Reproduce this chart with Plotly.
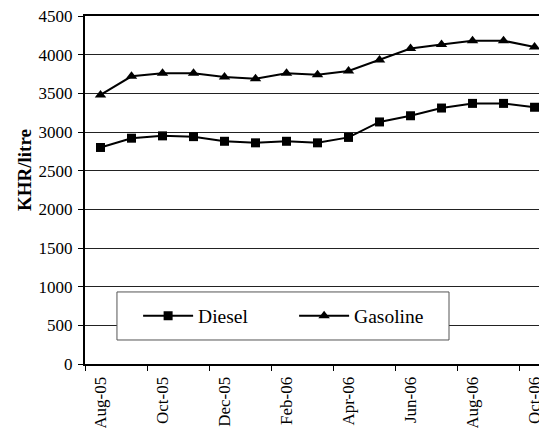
import plotly.graph_objects as go

months = ["Aug-05", "Sep-05", "Oct-05", "Nov-05", "Dec-05", "Jan-06", "Feb-06", "Mar-06",
          "Apr-06", "May-06", "Jun-06", "Jul-06", "Aug-06", "Sep-06", "Oct-06"]
diesel = [2800, 2920, 2950, 2940, 2880, 2860, 2880, 2860, 2930, 3130, 3210, 3310, 3370, 3370, 3320]
gasoline = [3480, 3720, 3760, 3760, 3710, 3690, 3760, 3740, 3790, 3930, 4080, 4130, 4180, 4180, 4100]

FONT = "Liberation Serif"

fig = go.Figure()
fig.add_trace(go.Scatter(x=months, y=diesel, name="Diesel", mode="lines+markers",
                         line=dict(color="black", width=2),
                         marker=dict(symbol="square", size=9, color="black")))
fig.add_trace(go.Scatter(x=months, y=gasoline, name="Gasoline", mode="lines+markers",
                         line=dict(color="black", width=2),
                         marker=dict(symbol="triangle-up", size=10, color="black")))

fig.update_layout(
    width=547, height=428,
    margin=dict(l=77, r=0, t=8, b=72),
    paper_bgcolor="white", plot_bgcolor="white",
    font=dict(family=FONT, size=17, color="black"),
    showlegend=True,
    legend=dict(orientation="h", x=0.113, y=0.138, xanchor="left", yanchor="middle",
                bgcolor="rgba(0,0,0,0)", borderwidth=0, itemwidth=50,
                font=dict(family=FONT, size=19.5), entrywidth=91, entrywidthmode="pixels"),
    shapes=[dict(type="rect", xref="paper", yref="paper", x0=0.068, x1=0.7745,
                 y0=0.069, y1=0.207, fillcolor="white", line=dict(color="#555", width=1),
                 layer="above")],
    annotations=[dict(text="<b>KHR/litre</b>", textangle=-90, xref="paper", yref="paper",
                      x=-0.13, y=0.557, xanchor="center", yanchor="middle", showarrow=False,
                      font=dict(family=FONT, size=19))],
)
fig.update_xaxes(type="category", range=[-0.5, 14.66], tickangle=-90, dtick=2,
                 tickson="boundaries", ticks="outside", ticklen=5, tickcolor="black",
                 showgrid=False, showline=True, linecolor="black", linewidth=2, mirror=True,
                 automargin=False, ticklabelstandoff=4, tickfont=dict(family=FONT, size=17))
fig.update_yaxes(range=[0, 4500], dtick=500, ticks="outside", ticklen=5, tickcolor="black",
                 showgrid=True, gridcolor="#222", gridwidth=1, zeroline=False,
                 showline=True, linecolor="black", linewidth=2, automargin=False,
                 ticklabeloverflow="allow", ticklabelstandoff=2,
                 tickfont=dict(family=FONT, size=17))

fig.write_html("out.html")
